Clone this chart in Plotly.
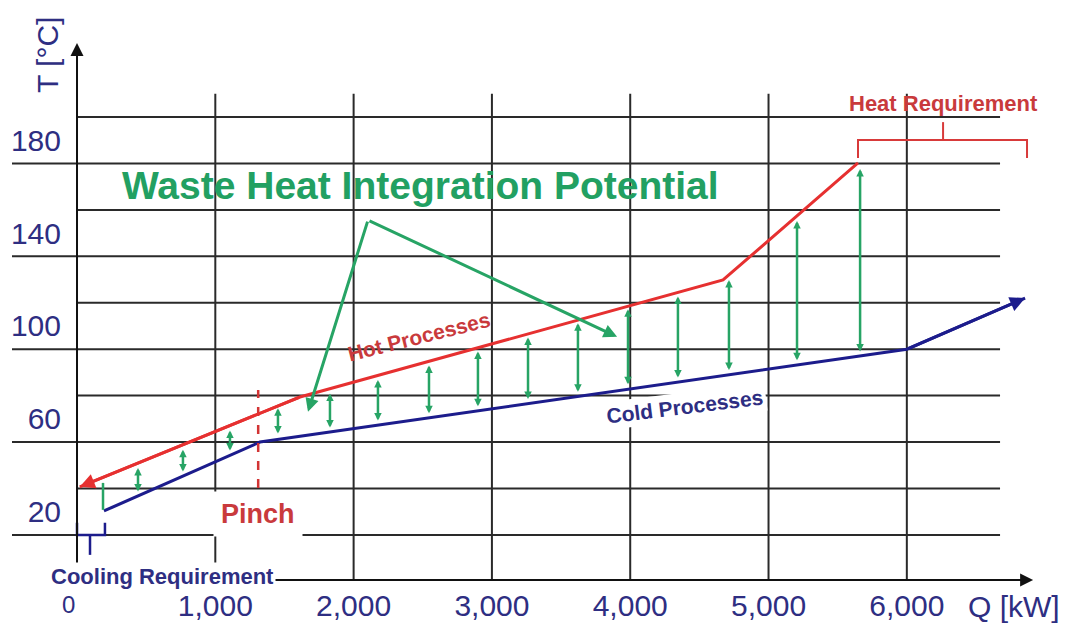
import plotly.graph_objects as go

# ---------------- data ----------------
hot_q = [20, 1612, 4671, 5647]
hot_t = [30.7, 69.4, 119.8, 170.2]
cold_q = [195, 1323, 6000, 6855]
cold_t = [20.3, 50.0, 90.0, 112.0]

gap_q = [441, 766, 1106, 1453, 1829, 2176, 2545, 2899, 3261, 3622, 3984, 4345, 4714, 5206, 5662]
gap_top = [38.8, 46.7, 55.0, 64.5, 70.9, 76.7, 83.0, 89.0, 95.0, 101.2, 107.2, 112.7, 119.8, 145.2, 167.6]
gap_bot = [28.1, 36.7, 45.7, 53.0, 55.6, 58.6, 61.8, 64.8, 67.9, 71.0, 74.2, 77.2, 80.4, 84.6, 88.4]
start_gap_q = [188, 188]
start_gap_t = [32.4, 20.8]

pinch_q = [1310, 1310]
pinch_t = [30.2, 72.4]

x_ticks = [1000, 2000, 3000, 4000, 5000, 6000]
x_tick_text = ["1,000", "2,000", "3,000", "4,000", "5,000", "6,000"]
y_ticks = [20, 60, 100, 140, 180]
y_tick_text = ["20", "60", "100", "140", "180"]
grid_t = [10, 30, 50, 70, 90, 110, 130, 150, 170, 190]
grid_t_long = [10, 50, 90, 130, 170]
grid_q = [1000, 2000, 3000, 4000, 5000, 6000]

# ---------------- styles ----------------
FONT = "Liberation Sans, Arial, sans-serif"
NAVY = "#2e2e82"
COLD = "#1c1c8c"
HOT = "#e63030"
RED_TXT = "#c93a3c"
GREEN = "#27a465"
GREEN_TXT = "#22a062"
GRID = "#2a2a2a"

XMIN, XMAX = -556.8, 7281
YMIN, YMAX = -30.1, 240.4
X_AXIS_T = -9.4

fig = go.Figure()

# grid lines
shapes = []
for t in grid_t:
    x0 = -470 if t in grid_t_long else 0
    shapes.append(dict(type="line", xref="x", yref="y", x0=x0, x1=6674, y0=t, y1=t,
                       line=dict(color=GRID, width=2), layer="below"))
for q in grid_q:
    shapes.append(dict(type="line", xref="x", yref="y", x0=q, x1=q, y0=X_AXIS_T, y1=200,
                       line=dict(color=GRID, width=2), layer="below"))
# pinch line
shapes.append(dict(type="line", xref="x", yref="y", x0=pinch_q[0], x1=pinch_q[1],
                   y0=pinch_t[0], y1=pinch_t[1],
                   line=dict(color="#d23434", width=2.5, dash="dash")))

# curves
fig.add_trace(go.Scatter(x=hot_q, y=hot_t, mode="lines",
                         line=dict(color=HOT, width=3), hoverinfo="skip"))
fig.add_trace(go.Scatter(x=cold_q, y=cold_t, mode="lines",
                         line=dict(color=COLD, width=3), hoverinfo="skip"))
fig.add_trace(go.Scatter(x=start_gap_q, y=start_gap_t, mode="lines",
                         line=dict(color=GREEN, width=2.5), hoverinfo="skip"))

# brackets
fig.add_trace(go.Scatter(x=[5647, 5647, 6869, 6869, None, 6262, 6262],
                         y=[172.3, 180.1, 180.1, 172.3, None, 180.1, 187.8],
                         mode="lines", line=dict(color="#d83a3a", width=2), hoverinfo="skip"))
fig.add_trace(go.Scatter(x=[0, 0, 202, 202, None, 94, 94],
                         y=[15.2, 10, 10, 15.2, None, 10, 1.4],
                         mode="lines", line=dict(color=COLD, width=2.5), hoverinfo="skip"))

ann = []
# axis arrows
ann.append(dict(x=6913, y=X_AXIS_T, ax=0, ay=X_AXIS_T, xref="x", yref="y", axref="x", ayref="y",
                text="", showarrow=True, arrowhead=2, arrowsize=1.3, arrowwidth=2, arrowcolor="#111"))
ann.append(dict(x=0, y=221.9, ax=0, ay=-12, xref="x", yref="y", axref="x", ayref="y",
                text="", showarrow=True, arrowhead=2, arrowsize=1.3, arrowwidth=2, arrowcolor="#111"))
# curve end arrows
ann.append(dict(x=hot_q[0], y=hot_t[0], ax=hot_q[1], ay=hot_t[1], xref="x", yref="y", axref="x", ayref="y",
                text="", showarrow=True, arrowhead=2, arrowsize=1.0, arrowwidth=3, arrowcolor=HOT))
ann.append(dict(x=cold_q[-1], y=cold_t[-1], ax=cold_q[-2], ay=cold_t[-2], xref="x", yref="y", axref="x", ayref="y",
                text="", showarrow=True, arrowhead=2, arrowsize=1.0, arrowwidth=3, arrowcolor=COLD))
# gap arrows
for q, t1, t0 in zip(gap_q, gap_top, gap_bot):
    ann.append(dict(x=q, y=t1, ax=q, ay=t0, xref="x", yref="y", axref="x", ayref="y",
                    text="", showarrow=True, arrowhead=2, arrowside="end+start",
                    arrowsize=0.6, arrowwidth=2.5, arrowcolor=GREEN))
# potential pointer arrows
apex = (2104, 145.6)
for tip in [(1670, 63.0), (3905, 95.3)]:
    ann.append(dict(x=tip[0], y=tip[1], ax=apex[0], ay=apex[1], xref="x", yref="y", axref="x", ayref="y",
                    text="", showarrow=True, arrowhead=2, arrowsize=0.9, arrowwidth=3, arrowcolor=GREEN))

def label(text, x, y, size, color, angle=0, bg=None, pad=1):
    d = dict(x=x, y=y, xref="x", yref="y", text=text, showarrow=False, textangle=angle,
             font=dict(family=FONT, size=size, color=color), borderpad=pad)
    if bg:
        d["bgcolor"] = bg
    return d

ann.append(label("<b>Waste Heat Integration Potential</b>", 2487, 160.3, 39, GREEN_TXT))
ann.append(label("<b>Hot Processes</b>", 2473, 95.3, 21, RED_TXT, angle=-14))
ann.append(label("<b>Cold Processes</b>", 4396, 65.1, 21, NAVY, angle=-7, bg="white", pad=2))
ann.append(label("<b>Pinch</b>", 1309, 19.0, 27, RED_TXT, bg="white", pad=7))
ann.append(label("<b>Heat Requirement</b>", 6268, 196.0, 22, RED_TXT))
ann.append(label("0", -58, -20.0, 24, NAVY))
ann.append(label("<b>Cooling Requirement</b>", 621, -7.8, 22, NAVY, bg="white", pad=1))
ann.append(label("T [°C]", -217, 216.7, 30, NAVY, angle=-90))
ann.append(label("Q [kW]", 6775, -21.0, 30, NAVY))

fig.update_layout(
    width=1084, height=628,
    margin=dict(l=0, r=0, t=0, b=0),
    paper_bgcolor="white", plot_bgcolor="white",
    showlegend=False,
    shapes=shapes, annotations=ann,
    xaxis=dict(range=[XMIN, XMAX], showgrid=False, zeroline=False, showline=False,
               anchor="free", position=1 - 580 / 628,
               tickvals=x_ticks, ticktext=x_tick_text, ticks="",
               ticklabelstandoff=5,
               tickfont=dict(family=FONT, size=30, color=NAVY), fixedrange=True),
    yaxis=dict(range=[YMIN, YMAX], showgrid=False, zeroline=False, showline=False,
               anchor="free", position=77 / 1084,
               tickvals=y_ticks, ticktext=y_tick_text, ticks="",
               ticklabelstandoff=16,
               tickfont=dict(family=FONT, size=30, color=NAVY), fixedrange=True),
)

fig.write_html("out.html", config={"displayModeBar": False},
               post_script="document.body.style.margin='0';document.body.style.overflow='hidden';")
